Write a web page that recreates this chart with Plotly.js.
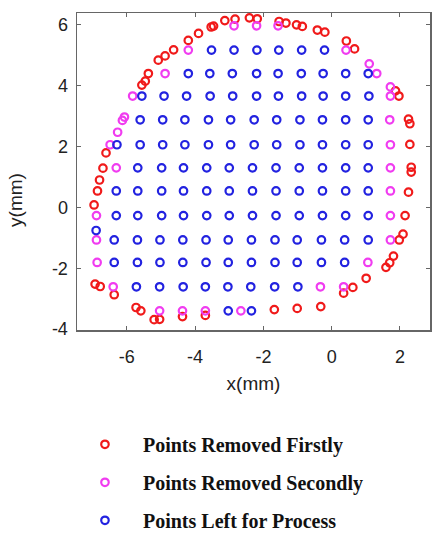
<!DOCTYPE html>
<html>
<head>
<meta charset="utf-8">
<script src="https://cdn.plot.ly/plotly-3.0.1.min.js"></script>
<style>html,body{margin:0;padding:0;background:#fff;}#chart{width:432px;height:533px;}</style>
</head>
<body>
<div id="chart"></div>
<script>
// Series names
var seriesNames = ["Points Removed Firstly", "Points Removed Secondly", "Points Left for Process"];

// Points removed firstly (red)
var xRed = [-5.08, -4.88, -4.63, -4.20, -3.90, -3.53, -3.46, -3.13, -2.83, -2.41, -2.18, -1.54, -1.34, -1.03, -0.86, -0.42, -0.20, 0.43, 0.67,
            -5.37, -5.46, -5.56, -6.61, -6.70, -6.80, -6.86, -6.96, -6.93, -6.78, -6.37,
            -5.73, -5.59, -5.20, -5.04, -4.37, -3.70, -1.68, -1.01, -0.32,
            0.35, 0.62, 1.01, 1.59, 1.70, 1.81, 1.98, 2.09, 2.15, 2.25, 2.33, 2.33, 2.29, 2.25, 2.29, 1.87, 1.97];
var yRed = [4.84, 4.98, 5.18, 5.49, 5.72, 5.93, 5.96, 6.14, 6.19, 6.23, 6.20, 6.11, 6.06, 6.00, 5.95, 5.83, 5.76, 5.47, 5.21,
            4.40, 4.15, 4.02, 1.79, 1.29, 0.90, 0.54, 0.08, -2.52, -2.60, -2.87,
            -3.29, -3.40, -3.69, -3.68, -3.59, -3.55, -3.36, -3.32, -3.26,
            -2.82, -2.63, -2.33, -1.97, -1.82, -1.60, -1.07, -0.88, -0.27, 0.50, 1.16, 1.32, 2.07, 2.90, 2.75, 3.83, 3.66];

// Points removed secondly (magenta)
var xMag = [-2.86, -2.20, -1.57, -4.20, 0.42, 1.10, -4.88, 1.32, -5.83, 1.72, 1.72, -6.07, -6.13, 1.70, -6.27,
            -6.49, 1.72, -6.31, 1.72, 1.72, -6.89, 1.72, -6.89, 1.72, -6.87, 1.06, -6.40, -0.33, 0.35,
            -5.04, -4.37, -3.70, -2.66];
var yMag = [5.97, 5.97, 5.97, 5.17, 5.17, 4.72, 4.40, 4.40, 3.66, 3.66, 3.96, 2.97, 2.86, 2.88, 2.47,
            2.06, 2.06, 1.30, 1.30, 0.54, -0.27, -0.27, -1.07, -1.07, -1.81, -1.81, -2.61, -2.61, -2.61,
            -3.40, -3.40, -3.40, -3.40];

// Points left for process (blue), listed row by row
var xBlue = [
  -3.52, -2.86, -2.19, -1.55, -0.88, -0.21,
  -4.20, -3.57, -2.91, -2.20, -1.57, -0.89, -0.25, 0.41, 1.07,
  -5.56, -4.91, -4.25, -3.56, -2.90, -2.20, -1.56, -0.88, -0.25, 0.41, 1.09,
  -5.61, -4.95, -4.30, -3.61, -2.96, -2.27, -1.61, -0.93, -0.27, 0.41, 1.07,
  -6.29, -5.61, -4.95, -4.30, -3.61, -2.96, -2.27, -1.61, -0.93, -0.27, 0.41, 1.07,
  -5.68, -4.98, -4.34, -3.66, -3.00, -2.32, -1.63, -0.95, -0.27, 0.41, 1.07,
  -6.31, -5.68, -4.98, -4.34, -3.66, -3.00, -2.32, -1.63, -0.95, -0.27, 0.41, 1.07,
  -6.31, -5.68, -4.98, -4.34, -3.66, -3.00, -2.32, -1.63, -0.95, -0.27, 0.41, 1.07,
  -6.37, -5.69, -5.03, -4.36, -3.68, -3.03, -2.35, -1.66, -1.01, -0.30, 0.38, 1.07,
  -6.37, -5.69, -5.03, -4.36, -3.68, -3.03, -2.35, -1.66, -1.01, -0.30, 0.38,
  -5.72, -5.04, -4.35, -3.70, -3.04, -2.37, -1.67, -0.99,
  -3.03, -2.35,
  -6.90];
var yBlue = [
  5.17, 5.17, 5.17, 5.17, 5.17, 5.17,
  4.40, 4.40, 4.40, 4.40, 4.40, 4.40, 4.40, 4.40, 4.40,
  3.66, 3.66, 3.66, 3.66, 3.66, 3.66, 3.66, 3.66, 3.66, 3.66, 3.66,
  2.88, 2.88, 2.88, 2.88, 2.88, 2.88, 2.88, 2.88, 2.88, 2.88, 2.88,
  2.06, 2.06, 2.06, 2.06, 2.06, 2.06, 2.06, 2.06, 2.06, 2.06, 2.06, 2.06,
  1.30, 1.30, 1.30, 1.30, 1.30, 1.30, 1.30, 1.30, 1.30, 1.30, 1.30,
  0.54, 0.54, 0.54, 0.54, 0.54, 0.54, 0.54, 0.54, 0.54, 0.54, 0.54, 0.54,
  -0.27, -0.27, -0.27, -0.27, -0.27, -0.27, -0.27, -0.27, -0.27, -0.27, -0.27, -0.27,
  -1.07, -1.07, -1.07, -1.07, -1.07, -1.07, -1.07, -1.07, -1.07, -1.07, -1.07, -1.07,
  -1.81, -1.81, -1.81, -1.81, -1.81, -1.81, -1.81, -1.81, -1.81, -1.81, -1.81,
  -2.61, -2.61, -2.61, -2.61, -2.61, -2.61, -2.61, -2.61,
  -3.40, -3.40,
  -0.76];

var xTicks = [-6, -4, -2, 0, 2];
var yTicks = [-4, -2, 0, 2, 4, 6];

function mk(color) {
  return {symbol: "circle-open", size: 7.5, color: color, line: {width: 2.2, color: color}};
}

var traces = [
  {x: xRed, y: yRed, name: seriesNames[0], type: "scatter", mode: "markers", marker: mk("#f01a1a"), legendgroup: "a"},
  {x: xMag, y: yMag, name: seriesNames[1], type: "scatter", mode: "markers", marker: mk("#f03cf0"), legendgroup: "b"},
  {x: xBlue, y: yBlue, name: seriesNames[2], type: "scatter", mode: "markers", marker: mk("#2222e0"), legendgroup: "c"}
];

var sansFont = "Liberation Sans, Arial, sans-serif";
var axisFont = {family: sansFont, size: 18, color: "#222"};

var layout = {
  width: 432, height: 533,
  margin: {l: 77, r: 2, t: 13, b: 203, autoexpand: false},
  paper_bgcolor: "#fff", plot_bgcolor: "#fff",
  showlegend: true,
  legend: {
    xref: "container", yref: "container",
    x: 0.155, xanchor: "left", y: 0.203, yanchor: "top",
    orientation: "v", tracegroupgap: 9, itemwidth: 66,
    font: {family: "Liberation Serif, Times New Roman, serif", size: 20, color: "#111", weight: 700},
    bgcolor: "rgba(0,0,0,0)"
  },
  xaxis: {
    range: [-7.46, 2.88], tickvals: xTicks, ticktext: xTicks.map(String),
    showgrid: false, zeroline: false, showline: true, linecolor: "#666", linewidth: 1.5,
    mirror: "ticks", ticks: "inside", ticklen: 4, tickcolor: "#666",
    tickfont: axisFont, ticklabelstandoff: 10,
    title: {text: "x(mm)", font: {family: sansFont, size: 19, color: "#222"}, standoff: 10}
  },
  yaxis: {
    range: [-4.03, 6.39], tickvals: yTicks, ticktext: yTicks.map(String),
    showgrid: false, zeroline: false, showline: true, linecolor: "#666", linewidth: 1.5,
    mirror: "ticks", ticks: "inside", ticklen: 4, tickcolor: "#666",
    tickfont: axisFont, ticklabelstandoff: 4
  },
  annotations: [{
    text: "y(mm)", xref: "paper", yref: "paper", x: -0.176, y: 0.41,
    xanchor: "center", yanchor: "middle", textangle: -90, showarrow: false,
    font: {family: sansFont, size: 19, color: "#222"}
  }]
};

Plotly.newPlot("chart", traces, layout, {displayModeBar: false, staticPlot: true});
</script>
</body>
</html>
